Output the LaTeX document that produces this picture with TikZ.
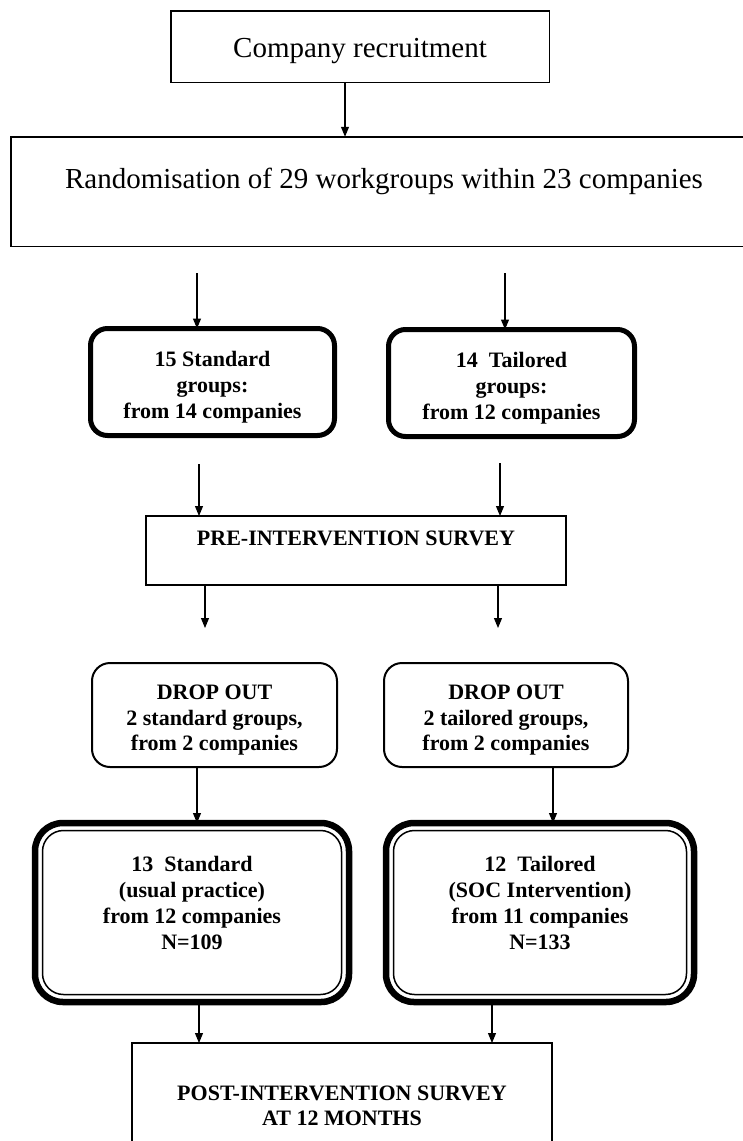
\documentclass[tikz,border=0pt]{standalone}
\usepackage{fontspec}
\setmainfont{Liberation Serif}
\usetikzlibrary{arrows.meta,calc}
\begin{document}
\begin{tikzpicture}[x=1pt,y=-1pt,
  plainbox/.style={draw, line width=1.5pt, inner sep=0pt, outer sep=0pt},
  thickbox/.style={draw, line width=5pt, rounded corners=17pt, inner sep=0pt, outer sep=0pt},
  thinround/.style={draw, line width=2pt, rounded corners=18pt, inner sep=0pt, outer sep=0pt},
  dblouter/.style={draw, line width=6.5pt, rounded corners=28pt, inner sep=0pt, outer sep=0pt},
  dblinner/.style={draw, line width=1.5pt, rounded corners=21pt, inner sep=0pt, outer sep=0pt},
  rtext/.style={font=\fontsize{29}{33}\selectfont, inner sep=0pt, anchor=base},
  btext/.style={font=\fontsize{22}{26}\selectfont\bfseries, inner sep=0pt, anchor=base},
  arr/.style={line width=1.1pt, -{Triangle[length=10pt,width=8pt]}}
]
\useasboundingbox (0,0) rectangle (743,1141);
\fill[white] (0,0) rectangle (743,1141);

% boxes
\node[plainbox, minimum width=378.5pt, minimum height=71.5pt] (b1) at (360,46.5) {};
\node[plainbox, minimum width=738pt, minimum height=109.5pt] (b2) at (380,191.5) {};
\node[thickbox, minimum width=244pt, minimum height=107pt] (b3) at (212.5,382) {};
\node[thickbox, minimum width=246pt, minimum height=107pt] (b4) at (511.5,383) {};
\node[plainbox, line width=2pt, minimum width=420pt, minimum height=69pt] (b5) at (356,550.5) {};
\node[thinround, minimum width=245pt, minimum height=104pt] (b6) at (214.5,715) {};
\node[thinround, minimum width=244pt, minimum height=104pt] (b7) at (506,715) {};
\node[dblouter, minimum width=314pt, minimum height=179pt] (b8) at (192,912.5) {};
\node[dblinner, minimum width=299pt, minimum height=164pt] (b8i) at (192,912.5) {};
\node[dblouter, minimum width=308pt, minimum height=179pt] (b9) at (540,912.5) {};
\node[dblinner, minimum width=293pt, minimum height=164pt] (b9i) at (540,912.5) {};
\node[plainbox, line width=2pt, minimum width=420pt, minimum height=127pt] (b10) at (342,1106.5) {};

% texts
\node[rtext] (t1) at (360,57.5) {Company recruitment};
\node[rtext] (t2) at (384,188) {Randomisation of 29 workgroups within 23 companies};

\node[btext] (t3a) at (212.5,366) {15 Standard};
\node[btext] (t3b) at (212.5,392) {groups:};
\node[btext] (t3c) at (212.5,418) {from 14 companies};

\node[btext] (t4a) at (511.5,367) {14\ \ Tailored};
\node[btext] (t4b) at (511.5,393) {groups:};
\node[btext] (t4c) at (511.5,419) {from 12 companies};

\node[btext] (t5) at (356,545) {PRE-INTERVENTION SURVEY};

\node[btext] (t6a) at (214.5,699) {DROP OUT};
\node[btext] (t6b) at (214.5,725) {2 standard groups,};
\node[btext] (t6c) at (214.5,750) {from 2 companies};

\node[btext] (t7a) at (506,699) {DROP OUT};
\node[btext] (t7b) at (506,725) {2 tailored groups,};
\node[btext] (t7c) at (506,750) {from 2 companies};

\node[btext] (t8a) at (192,871) {13\ \ Standard};
\node[btext] (t8b) at (192,897) {(usual practice)};
\node[btext] (t8c) at (192,923) {from 12 companies};
\node[btext] (t8d) at (192,949) {N=109};

\node[btext] (t9a) at (540,871) {12\ \ Tailored};
\node[btext] (t9b) at (540,897) {(SOC Intervention)};
\node[btext] (t9c) at (540,923) {from 11 companies};
\node[btext] (t9d) at (540,949) {N=133};

\node[btext] (t10a) at (342,1100) {POST-INTERVENTION SURVEY};
\node[btext] (t10b) at (342,1125) {AT 12 MONTHS};

% arrow anchor coordinates
\coordinate (x1) at (345,0);
\coordinate (a2s) at (197,273);
\coordinate (a3s) at (505,273);
\coordinate (a4s) at (199,464);
\coordinate (a5s) at (500,463);
\coordinate (a6e) at (205,628);
\coordinate (a7e) at (498,628);
\coordinate (x8) at (197,0);
\coordinate (x9) at (553,0);
\coordinate (x10) at (199,0);
\coordinate (x11) at (492,0);

% connectors
\draw[arr] (b1.south -| x1) -- (b2.north -| x1);
\draw[arr] (a2s) -- (a2s |- b3.north);
\draw[arr] (a3s) -- (a3s |- b4.north);
\draw[arr] (a4s) -- (a4s |- b5.north);
\draw[arr] (a5s) -- (a5s |- b5.north);
\draw[arr] (b5.south -| a6e) -- (a6e);
\draw[arr] (b5.south -| a7e) -- (a7e);
\draw[arr] (b6.south -| x8) -- (b8.north -| x8);
\draw[arr] (b7.south -| x9) -- (b9.north -| x9);
\draw[arr] (b8.south -| x10) -- (b10.north -| x10);
\draw[arr] (b9.south -| x11) -- (b10.north -| x11);
\end{tikzpicture}
\end{document}
